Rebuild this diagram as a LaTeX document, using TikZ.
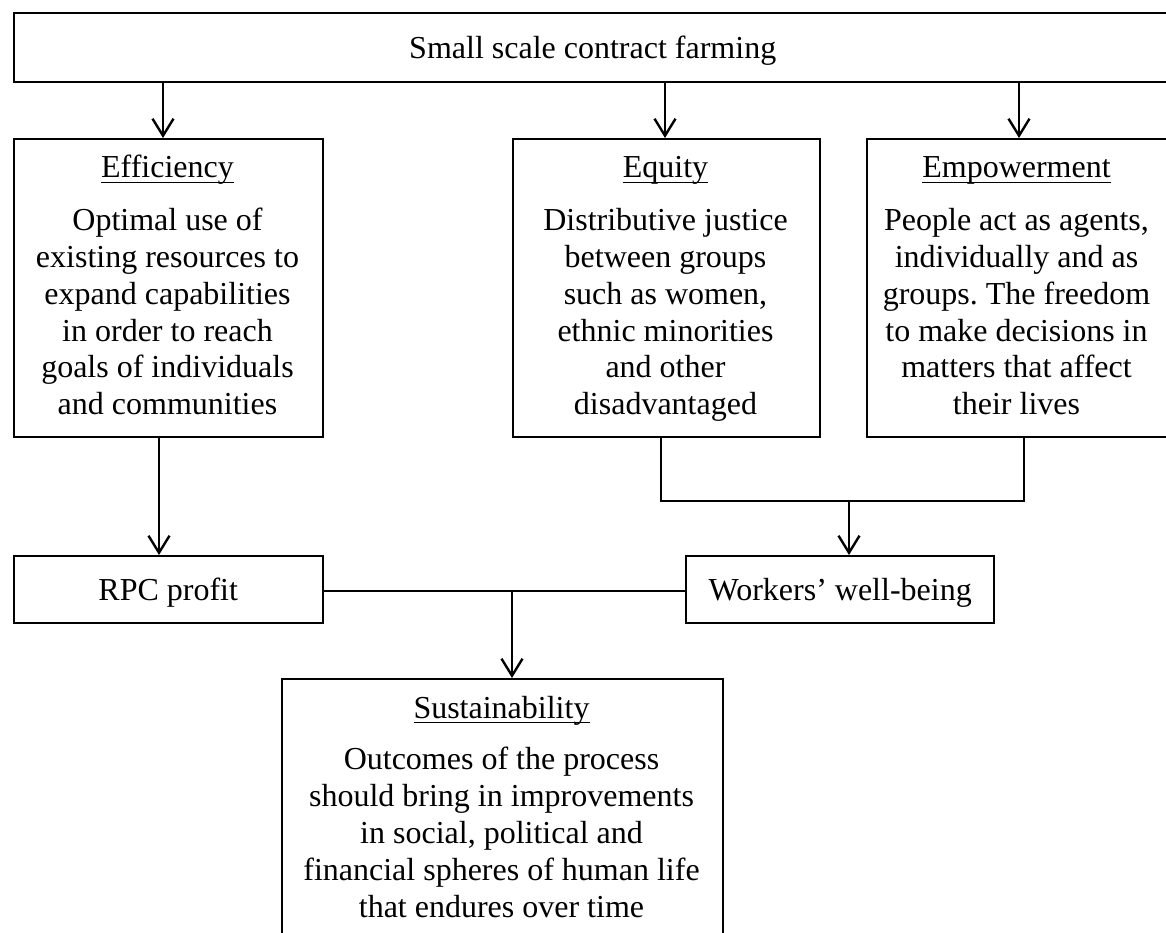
\documentclass[tikz,border=0pt]{standalone}
\usepackage{fontspec}
\setmainfont{Liberation Serif}
\usetikzlibrary{arrows.meta}
\newcommand{\ttl}[1]{\setbox0\hbox{#1}\rlap{\rule[-0.17em]{\wd0}{0.06em}}\box0}
\frenchspacing
\begin{document}
\begin{tikzpicture}[x=1pt,y=-1pt,
  box/.style={draw=black, line width=2.4pt, inner sep=0pt, rectangle},
  sbox/.style={box, text height=21pt, text depth=0pt},
  txt/.style={inner sep=0pt, anchor=base},
  conn/.style={draw=black, line width=2.4pt},
  arr/.style={conn, -{Straight Barb[length=17pt, width=21pt, line width=2.4pt]}},
  font=\fontsize{32}{36.8}\selectfont]
\useasboundingbox (0,0) rectangle (1166,933);

% boxes
\node[sbox, minimum width=1157pt, minimum height=69pt, anchor=north west] (top) at (13,12) {Small scale contract farming};
\node[box, minimum width=309pt, minimum height=298pt, anchor=north west] (eff) at (13,138) {};
\node[box, minimum width=307pt, minimum height=298pt, anchor=north west] (eq) at (512,138) {};
\node[box, minimum width=303pt, minimum height=298pt, anchor=north west] (emp) at (866,138) {};
\node[sbox, minimum width=309pt, minimum height=67pt, anchor=north west] (rpc) at (12.5,555) {RPC profit};
\node[sbox, minimum width=308pt, minimum height=67pt, anchor=north west] (wk) at (685,555) {Workers’ well-being};
\node[box, minimum width=441pt, minimum height=290pt, anchor=north west] (sus) at (281,678) {};

% texts
\node[txt] (efft) at (167.5,178) {\begin{tabular}[t]{@{}c@{}}\ttl{Efficiency}\\[16pt]
Optimal use of\\ existing resources to\\ expand capabilities\\ in order to reach\\ goals of individuals\\ and communities\end{tabular}};
\node[txt] (eqt) at (665.5,178) {\begin{tabular}[t]{@{}c@{}}\ttl{Equity}\\[16pt]
Distributive justice\\ between groups\\ such as women,\\ ethnic minorities\\ and other\\ disadvantaged\end{tabular}};
\node[txt] (empt) at (1016.5,178) {\begin{tabular}[t]{@{}c@{}}\ttl{Empowerment}\\[16pt]
People act as agents,\\ individually and as\\ groups. The freedom\\ to make decisions in\\ matters that affect\\ their lives\end{tabular}};
\node[txt] (sust) at (501.5,718) {\begin{tabular}[t]{@{}c@{}}\ttl{Sustainability}\\[15pt]
Outcomes of the process\\ should bring in improvements\\ in social, political and\\ financial spheres of human life\\ that endures over time\end{tabular}};

% connector coordinates
\coordinate (c1) at (163,0);
\coordinate (c2) at (665,0);
\coordinate (c3) at (1019,0);
\coordinate (c4) at (159,0);
\coordinate (b1) at (661,501);
\coordinate (b2) at (1024,501);
\coordinate (b3) at (849,501);
\coordinate (j) at (512,591);

% connectors
\draw[arr] (top.south -| c1) -- (eff.north -| c1);
\draw[arr] (top.south -| c2) -- (eq.north -| c2);
\draw[arr] (top.south -| c3) -- (emp.north -| c3);
\draw[arr] (eff.south -| c4) -- (rpc.north -| c4);
\draw[conn, line width=2.8pt] (eq.south -| b1) -- (b1) -- (b2) -- (emp.south -| b2);
\draw[arr] (b3) -- (wk.north -| b3);
\draw[conn] (rpc.east |- j) -- (wk.west |- j);
\draw[arr] (j) -- (sus.north -| j);
\end{tikzpicture}
\end{document}
